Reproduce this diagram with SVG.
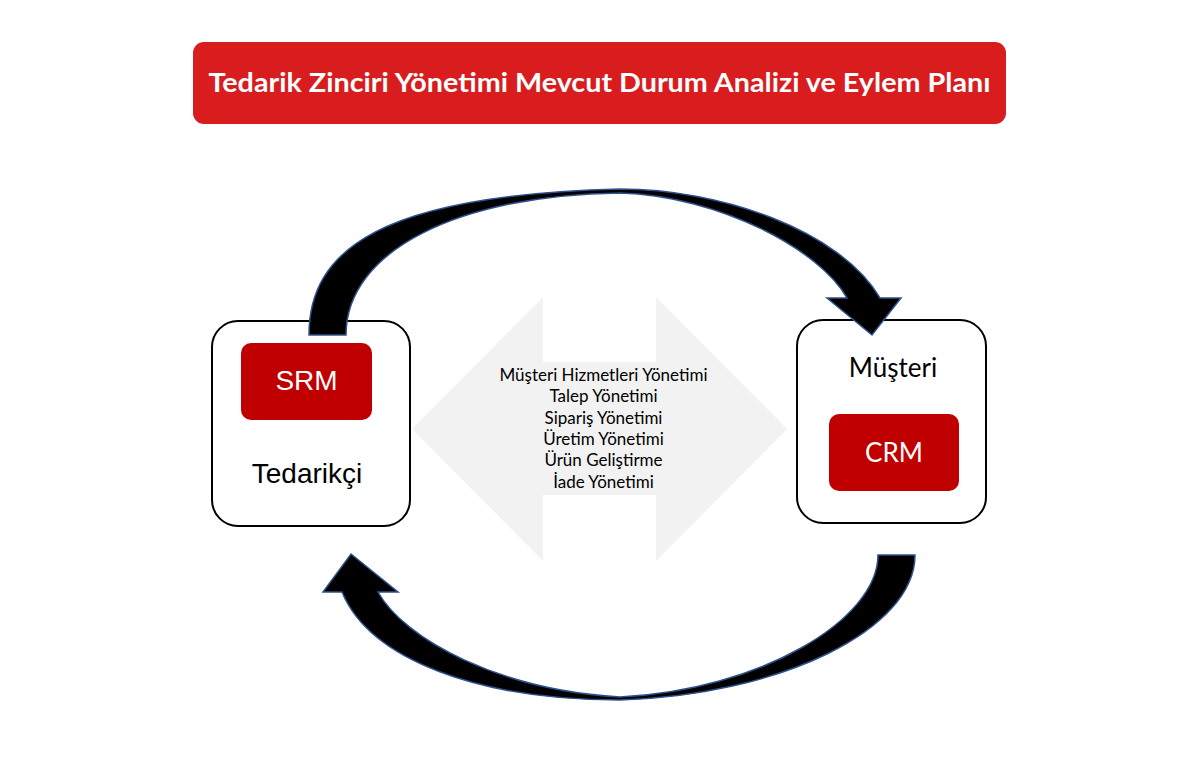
<svg xmlns="http://www.w3.org/2000/svg" width="1200" height="770" viewBox="0 0 1200 770">
<style>
.box{fill:#fff;stroke:#000;stroke-width:2}
.red{fill:#c00000}
.arrow{fill:#000;stroke:#2f528f;stroke-width:1.5;stroke-linejoin:miter}
.ar{font-family:"Liberation Sans",Arial,sans-serif}
.cal{font-family:Lato,"Open Sans",sans-serif}
.mid{font-family:Lato,"Open Sans",sans-serif;font-size:17px;fill:#000;text-anchor:middle}
</style>
<rect width="1200" height="770" fill="#fff"/>
<g id="title">
<rect x="193" y="42" width="813" height="82" rx="11" fill="#d91c1e"/>
<text x="599.5" y="92" class="cal" font-size="26" font-weight="bold" fill="#fff" text-anchor="middle" textLength="782" lengthAdjust="spacingAndGlyphs">Tedarik Zinciri Yönetimi Mevcut Durum Analizi ve Eylem Planı</text>
</g>
<g id="processes">
<polygon points="412,429 543,297 543,362 656,362 656,297 787,429 656,561 656,495 543,495 543,561" fill="#f2f2f2"/>
<text class="mid" x="603.5" y="381">Müşteri Hizmetleri Yönetimi</text>
<text class="mid" x="603.5" y="402.3">Talep Yönetimi</text>
<text class="mid" x="603.5" y="423.6">Sipariş Yönetimi</text>
<text class="mid" x="603.5" y="444.9">Üretim Yönetimi</text>
<text class="mid" x="603.5" y="466.2">Ürün Geliştirme</text>
<text class="mid" x="603.5" y="487.5">İade Yönetimi</text>
</g>
<g id="tedarikci">
<rect class="box" x="212" y="321" width="198" height="205" rx="26"/>
<rect class="red" x="241" y="343" width="131" height="77" rx="10"/>
<text class="ar" x="306.5" y="390" font-size="28" fill="#fff" text-anchor="middle">SRM</text>
<text class="ar" x="307" y="483" font-size="28" fill="#000" text-anchor="middle">Tedarikçi</text>
</g>
<g id="musteri">
<rect class="box" x="797" y="320" width="189" height="203" rx="26"/>
<text class="cal" x="893" y="377" font-size="26" fill="#000" text-anchor="middle">Müşteri</text>
<rect class="red" x="829" y="414" width="130" height="77" rx="10"/>
<text class="cal" x="894" y="462" font-size="26" fill="#fff" text-anchor="middle">CRM</text>
</g>
<g id="connectors">
<path class="arrow" d="M309,335 C309,250 380,195 620,189 C720,189 840,230 880,298 L901,298 L872,335 L827,298 L847,298 C820,250 720,196 620,193 C460,195 346,250 346,335 Z"/>
<path class="arrow" d="M915,555 C915,630 780,695 620,700 C480,700 370,660 342,592 L323,592 L351,554 L398,592 L378,592 C405,640 500,690 620,697 C760,690 878,620 878,555 Z"/>
</g>
</svg>
